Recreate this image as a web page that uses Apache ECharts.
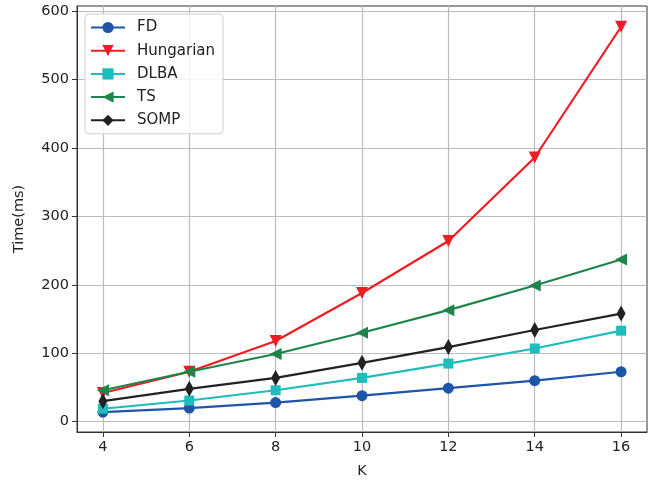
<!DOCTYPE html>
<html>
<head>
<meta charset="utf-8">
<script src="https://cdn.jsdelivr.net/npm/echarts@6/dist/echarts.min.js"></script>
<style>
  html, body { margin: 0; padding: 0; background: #fff; }
  #main { width: 654px; height: 485px; }
</style>
</head>
<body>
<div id="main"></div>
<script>
const kValues = [4, 6, 8, 10, 12, 14, 16]
const fd = [14, 20, 28, 38, 49, 60, 73]
const hungarian = [42, 73, 118, 188, 264, 386, 577]
const dlba = [19, 31, 46, 64, 85, 107, 133]
const ts = [46, 73, 99, 130, 163, 199, 237]
const somp = [30, 48, 64, 86, 109, 134, 158]
const xTicks = [4, 6, 8, 10, 12, 14, 16]
const yTicks = [0, 100, 200, 300, 400, 500, 600]

const myChart = echarts.init(document.getElementById('main'))

// build [x, y] pairs
function pairs(arr) {
  return kValues.map((k, i) => [k, arr[i]])
}

function makeSeries(name, data, color, symbol, size, rotate) {
  return {
    name: name,
    type: 'line',
    data: pairs(data),
    symbol: symbol,
    symbolSize: size,
    symbolRotate: rotate || 0,
    showAllSymbol: true,
    lineStyle: { color: color, width: 2.2 },
    itemStyle: { color: color, borderWidth: 0 },
    emphasis: { disabled: true },
    z: 3
  }
}

const axisText = { color: '#222', fontSize: 14.5, fontFamily: 'DejaVu Sans' }

const option = {
  animation: false,
  backgroundColor: '#fff',
  grid: {
    left: 77, right: 7, top: 6, bottom: 53,
    show: true, borderColor: '#333', borderWidth: 1
  },
  legend: {
    left: 85,
    top: 14,
    orient: 'vertical',
    itemWidth: 34,
    itemHeight: 14,
    itemGap: 8.2,
    padding: [6, 8, 6, 5],
    borderColor: '#d0d0d0',
    borderWidth: 1,
    borderRadius: 4,
    backgroundColor: 'rgba(255,255,255,0.85)',
    textStyle: { color: '#222', fontSize: 15, fontFamily: 'DejaVu Sans', padding: [0, 0, 0, 7] },
    data: ['FD', 'Hungarian', 'DLBA', 'TS', 'SOMP']
  },
  xAxis: {
    type: 'value',
    min: 3.4,
    max: 16.6,
    name: 'K',
    nameLocation: 'middle',
    nameGap: 32,
    nameTextStyle: axisText,
    axisLine: { show: true, onZero: false, lineStyle: { color: '#333', width: 1 } },
    axisTick: { show: true, customValues: xTicks, length: 5, lineStyle: { color: '#333' } },
    axisLabel: { customValues: xTicks, margin: 8, ...axisText },
    splitLine: { show: true, lineStyle: { color: '#bcbcbc', width: 1.2 } }
  },
  yAxis: {
    type: 'value',
    min: -15,
    max: 607.3,
    name: 'Time(ms)',
    nameLocation: 'middle',
    nameGap: 50,
    nameTextStyle: axisText,
    axisLine: { show: true, onZero: false, lineStyle: { color: '#333', width: 1 } },
    axisTick: { show: true, customValues: yTicks, length: 5, lineStyle: { color: '#333' } },
    axisLabel: { customValues: yTicks, margin: 8, ...axisText },
    splitLine: { show: true, lineStyle: { color: '#bcbcbc', width: 1.2 } }
  },
  series: [
    makeSeries('FD', fd, '#1f55a6', 'circle', 11),
    makeSeries('Hungarian', hungarian, '#ee1d23', 'triangle', 12, 180),
    makeSeries('DLBA', dlba, '#1ebdbd', 'rect', 10),
    makeSeries('TS', ts, '#1f8449', 'triangle', 12, 90),
    makeSeries('SOMP', somp, '#222222', 'diamond', [9, 16])
  ]
}

myChart.setOption(option)
</script>
</body>
</html>
